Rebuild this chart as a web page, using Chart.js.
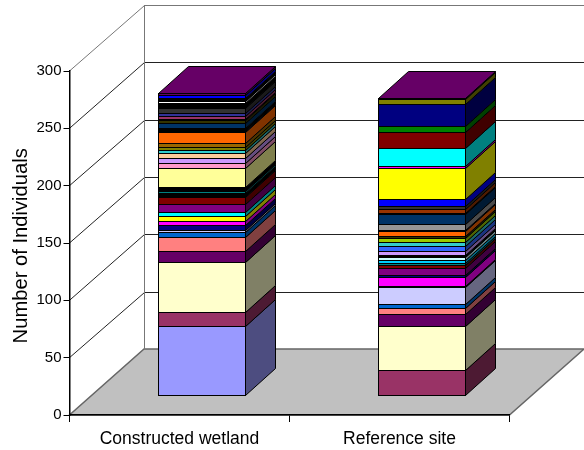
<!DOCTYPE html>
<html>
<head>
<meta charset="utf-8">
<style>
  html, body { margin: 0; padding: 0; background: #fff; }
  #wrap { position: relative; width: 584px; height: 450px; }
</style>
<script src="https://cdn.jsdelivr.net/npm/chart.js@4"></script>
</head>
<body>
<div id="wrap"><canvas id="grafico" width="584" height="450"></canvas></div>
<script>
const categories = ["Constructed wetland", "Reference site"];
const yTicks = [0, 50, 100, 150, 200, 250, 300];

// individuals per taxon, bottom of the stack first
const wetlandValues = [60, 12, 44, 10, 12, 4, 2, 4, 4, 4, 4, 7, 6, 3, 2, 3, 17, 4, 5, 4, 3, 2, 4, 9, 1, 3, 4, 3, 1, 2, 3, 4, 5, 1, 3, 3, 1];
const wetlandColors = ["#9999FF", "#993366", "#FFFFCC", "#660066", "#FF8080", "#0066CC", "#CCCCFF", "#000080", "#FF00FF", "#FFFF00", "#00FFFF", "#800080", "#800000", "#000000", "#008080", "#000000", "#FFFF99", "#FF99CC", "#CC99FF", "#FFCC99", "#33CCCC", "#808000", "#996600", "#FF6600", "#666699", "#000000", "#003366", "#333300", "#993300", "#993366", "#333399", "#333333", "#000000", "#FFFFFF", "#000000", "#0000FF", "#660066"];

const referenceValues = [22, 38, 11, 5, 3, 15, 1, 8, 2, 6, 2, 2, 3, 2, 2, 4, 4, 3, 4, 2, 4, 1, 5, 9, 1, 3, 3, 6, 27, 2, 15, 14, 6, 19, 4, 1];
const referenceColors = ["#993366", "#FFFFCC", "#660066", "#FF8080", "#0066CC", "#CCCCFF", "#000080", "#FF00FF", "#000080", "#800080", "#800000", "#008080", "#00CCFF", "#CCFFFF", "#000000", "#CC99FF", "#3366FF", "#33CCCC", "#99CC00", "#333300", "#FF6600", "#666699", "#969696", "#003366", "#003300", "#993300", "#333333", "#0000FF", "#FFFF00", "#FF00FF", "#00FFFF", "#800000", "#008000", "#000080", "#808000", "#660066"];

// fake 3d geometry, same as excel draws it
const FLOOR_DX = 74.5, FLOOR_DY = 66;   // front of the floor to the back wall
const FRONT_DX = 22.5, FRONT_DY = 20;   // front of the floor to the front of the bars
const BAR_DX = 30, BAR_DY = 27;         // depth of a bar

const shade = hex => {
  const n = parseInt(hex.slice(1), 16);
  const half = c => Math.round(c * 0.5);
  return `rgb(${half(n >> 16)},${half((n >> 8) & 255)},${half(n & 255)})`;
};

const poly = (ctx, pts, fill, stroke, width) => {
  ctx.beginPath();
  pts.forEach((p, i) => i ? ctx.lineTo(p[0], p[1]) : ctx.moveTo(p[0], p[1]));
  ctx.closePath();
  if (fill) { ctx.fillStyle = fill; ctx.fill(); }
  if (stroke) { ctx.strokeStyle = stroke; ctx.lineWidth = width || 1; ctx.stroke(); }
};

const walls = {
  id: "walls",
  beforeDraw(chart) {
    const { ctx, chartArea: a, scales: { y } } = chart;
    const backX = Math.floor(a.left + FLOOR_DX) + 0.5;
    ctx.save();
    // floor
    poly(ctx, [[a.left, a.bottom], [a.right, a.bottom], [a.right + FLOOR_DX, a.bottom - FLOOR_DY], [a.left + FLOOR_DX, a.bottom - FLOOR_DY]], "#C0C0C0", "#666666", 1.5);
    // back and side wall grid
    yTicks.forEach(v => {
      if (v === 0) return;
      const py = y.getPixelForValue(v);
      const backY = Math.round(py - FLOOR_DY) + 0.5;
      ctx.beginPath();
      ctx.moveTo(a.left, py);
      ctx.lineTo(backX, backY);
      ctx.lineTo(a.right + FLOOR_DX, backY);
      ctx.strokeStyle = v === 300 ? "#777777" : "#222222";
      ctx.lineWidth = 1;
      ctx.stroke();
    });
    ctx.beginPath();
    ctx.moveTo(backX, y.getPixelForValue(300) - FLOOR_DY);
    ctx.lineTo(backX, a.bottom - FLOOR_DY);
    ctx.strokeStyle = "#777777";
    ctx.stroke();
    ctx.restore();
  }
};

const barFaces = {
  id: "barFaces",
  // whole pixels and shared 1px edges, otherwise thin segments wash out to grey
  afterDatasetsUpdate(chart) {
    chart.data.datasets.forEach((ds, d) => {
      chart.getDatasetMeta(d).data.forEach(el => {
        el.y = Math.round(el.y);
        el.base = Math.round(el.base) + 1;
      });
    });
  },
  beforeDatasetsDraw(chart) {
    const ctx = chart.ctx;
    ctx.save();
    // everything until afterDatasetsDraw sits at the bars' depth on the floor
    ctx.translate(FRONT_DX, -FRONT_DY);
    const tops = {};
    chart.data.datasets.forEach((ds, d) => {
      chart.getDatasetMeta(d).data.forEach((el, i) => {
        if (ds.data[i] == null) return;
        const { x, y, base, width } = el.getProps(["x", "y", "base", "width"], true);
        const r = x + width / 2 - 0.5, top = y + 0.5, low = base - 0.5;
        poly(ctx, [[r, top], [r + BAR_DX, top - BAR_DY], [r + BAR_DX, low - BAR_DY], [r, low]], shade(ds.backgroundColor[i]), "#000", 1);
        tops[i] = { l: x - width / 2 + 0.5, r, y: top, color: ds.backgroundColor[i] };
      });
    });
    Object.values(tops).forEach(t => {
      poly(ctx, [[t.l, t.y], [t.r, t.y], [t.r + BAR_DX, t.y - BAR_DY], [t.l + BAR_DX, t.y - BAR_DY]], t.color, "#000", 1);
    });
  },
  afterDatasetsDraw(chart) {
    chart.ctx.restore();
  }
};

const count = Math.max(wetlandValues.length, referenceValues.length);
const datasets = [];
for (let i = 0; i < count; i++) {
  datasets.push({
    data: [wetlandValues[i] ?? null, referenceValues[i] ?? null],
    backgroundColor: [wetlandColors[i] ?? "#000", referenceColors[i] ?? "#000"],
    borderColor: "#000",
    borderWidth: 1,
    borderSkipped: false,
    barPercentage: 0.4,
    categoryPercentage: 1,
    clip: false
  });
}

new Chart(document.getElementById("grafico").getContext("2d"), {
  type: "bar",
  data: { labels: categories, datasets },
  plugins: [walls, barFaces],
  options: {
    responsive: false,
    animation: false,
    devicePixelRatio: 1,
    layout: { padding: { top: 71, right: 74.5 } },
    plugins: { legend: { display: false }, tooltip: { enabled: false } },
    scales: {
      x: {
        stacked: true,
        afterFit: s => { s.height = 35; },
        border: { color: "#000", width: 1.5 },
        grid: { drawOnChartArea: false, tickLength: 7, tickColor: "#000" },
        ticks: { color: "#000", maxRotation: 0, padding: 7, font: { family: "Liberation Sans", size: 17.5 } }
      },
      y: {
        stacked: true,
        min: 0,
        max: 300,
        afterFit: s => { s.width = 69.5; },
        afterBuildTicks: s => { s.ticks = yTicks.map(v => ({ value: v })); },
        border: { color: "#000", width: 1.5 },
        grid: { drawOnChartArea: false, tickLength: 6, tickColor: "#000" },
        ticks: { color: "#000", padding: 2, font: { family: "Liberation Sans", size: 15 } },
        title: {
          display: true,
          text: "Number of Individuals ",
          color: "#000",
          padding: { top: 9, bottom: 0 },
          font: { family: "Liberation Sans", size: 20.2, weight: "normal" }
        }
      }
    }
  }
});
</script>
</body>
</html>
